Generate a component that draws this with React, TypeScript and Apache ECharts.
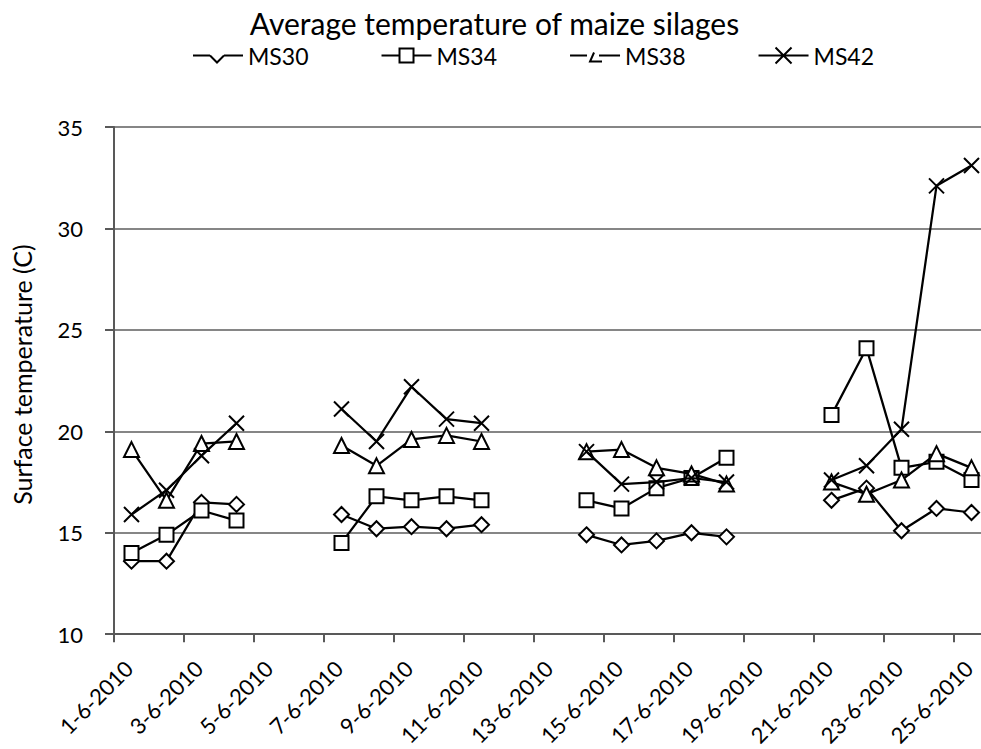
import React, { useEffect, useRef } from "react";
import * as echarts from "echarts";

const titleText = "Average temperature of maize silages";
const yAxisName = "Surface temperature (C)";
const seriesNames = ["MS30", "MS34", "MS38", "MS42"];

// one entry per day of June 2010 shown on the chart
const dates = [
  "1-6-2010", "2-6-2010", "3-6-2010", "4-6-2010", "5-6-2010",
  "6-6-2010", "7-6-2010", "8-6-2010", "9-6-2010", "10-6-2010",
  "11-6-2010", "12-6-2010", "13-6-2010", "14-6-2010", "15-6-2010",
  "16-6-2010", "17-6-2010", "18-6-2010", "19-6-2010", "20-6-2010",
  "21-6-2010", "22-6-2010", "23-6-2010", "24-6-2010", "25-6-2010",
];

const ms30 = [13.6, 13.6, 16.5, 16.4, null, null, 15.9, 15.2, 15.3, 15.2, 15.4, null, null, 14.9, 14.4, 14.6, 15.0, 14.8, null, null, 16.6, 17.2, 15.1, 16.2, 16.0];
const ms34 = [14.0, 14.9, 16.1, 15.6, null, null, 14.5, 16.8, 16.6, 16.8, 16.6, null, null, 16.6, 16.2, 17.2, 17.7, 18.7, null, null, 20.8, 24.1, 18.2, 18.5, 17.6];
const ms38 = [19.1, 16.6, 19.4, 19.5, null, null, 19.3, 18.3, 19.6, 19.8, 19.5, null, null, 19.0, 19.1, 18.2, 17.9, 17.4, null, null, 17.5, 16.9, 17.6, 18.9, 18.2];
const ms42 = [15.9, 17.1, 18.8, 20.4, null, null, 21.1, 19.5, 22.2, 20.6, 20.4, null, null, 19.0, 17.4, 17.5, 17.7, 17.5, null, null, 17.6, 18.3, 20.1, 32.1, 33.1];

const yTicks = [10, 15, 20, 25, 30, 35];

const FONT = "Lato";

function dayIndex(d: string): number {
  return parseInt(d.split("-")[0], 10) - 1;
}

const markerSymbols = ["diamond", "rect", "triangle", "path://M0 0 L10 10 M10 0 L0 10"];
const markerSizes = [15, 14, 15, 15];
const legendIcons = [
  "path://M0 8 H17 M17 8 L24 15 L31 8 M31 8 H50 M0 0 M50 16",
  "path://M0 8 H18 M32 8 H50 M18 1 H32 V15 H18 Z M0 0 M50 16",
  "path://M0 8 H17 M24 5 L20 14 H32 M29 8 H50 M0 0 M50 16",
  "path://M0 8 H50 M17 0 L33 16 M33 0 L17 16 M0 0 M50 16",
];

export default function App() {
  const ref = useRef<HTMLDivElement>(null);
  useEffect(() => {
    if (!ref.current) return;
    const chart = echarts.init(ref.current, null, { renderer: "svg" });
    const all = [ms30, ms34, ms38, ms42];
    const series = all.map((vals, si) => ({
      name: seriesNames[si],
      type: "line",
      connectNulls: false,
      data: dates.map((d, i) => [dayIndex(d) + 0.5, vals[i] == null ? "-" : vals[i]]),
      symbol: markerSymbols[si],
      symbolSize: markerSizes[si],
      showAllSymbol: true,
      lineStyle: { color: "#000", width: 2.25 },
      itemStyle: { color: "#fff", borderColor: "#000", borderWidth: 2 },
      emphasis: { disabled: true },
      z: 2 + si,
    }));
    chart.setOption({
      animation: false,
      backgroundColor: "#fff",
      title: {
        text: titleText,
        left: "center",
        top: 3,
        padding: [5, 12, 5, 5],
        textStyle: { fontFamily: FONT, fontSize: 30, fontWeight: "normal", color: "#000" },
      },
      legend: {
        left: 187,
        top: 39,
        itemWidth: 50,
        itemHeight: 16,
        itemGap: 72,
        data: seriesNames.map((n, i) => ({
          name: n,
          icon: legendIcons[i],
          itemStyle: { color: "#fff", borderColor: "#000", borderWidth: 2 },
        })),
        textStyle: { fontFamily: FONT, fontSize: 23, color: "#000" },
      },
      grid: { left: 114, right: 0, top: 127, bottom: 108, containLabel: false },
      xAxis: {
        type: "value",
        min: 0,
        max: 25,
        interval: 2,
        axisLine: { show: true, lineStyle: { color: "#595959", width: 2 } },
        axisTick: { show: true, length: 8, lineStyle: { color: "#595959", width: 2 } },
        splitLine: { show: false },
        axisLabel: {
          rotate: 45,
          margin: 45,
          align: "right",
          verticalAlign: "middle",
          padding: [0, -21, 0, 0],
          showMaxLabel: false,
          fontFamily: FONT,
          fontSize: 22,
          color: "#000",
          formatter: (v: number) => (v % 2 === 0 && v <= 24 ? dates[v] : ""),
        },
      },
      yAxis: {
        type: "value",
        min: yTicks[0],
        max: yTicks[yTicks.length - 1],
        interval: 5,
        name: yAxisName,
        nameLocation: "middle",
        nameGap: 80,
        nameTextStyle: { fontFamily: FONT, fontSize: 25, color: "#000", padding: [0, 0, 0, 12] },
        axisLine: { show: true, lineStyle: { color: "#595959", width: 2 } },
        axisTick: { show: true, length: 9, lineStyle: { color: "#595959", width: 2 } },
        splitLine: { show: true, lineStyle: { color: "#868686", width: 2 } },
        axisLabel: { margin: 31, fontFamily: FONT, fontSize: 22, color: "#000" },
      },
      series,
    });
    return () => chart.dispose();
  }, []);
  return (
    <div style={{ position: "fixed", left: 0, top: 0, width: 981, height: 749, overflow: "hidden", background: "#fff" }}>
      <div ref={ref} style={{ width: 989, height: 749 }} />
    </div>
  );
}
